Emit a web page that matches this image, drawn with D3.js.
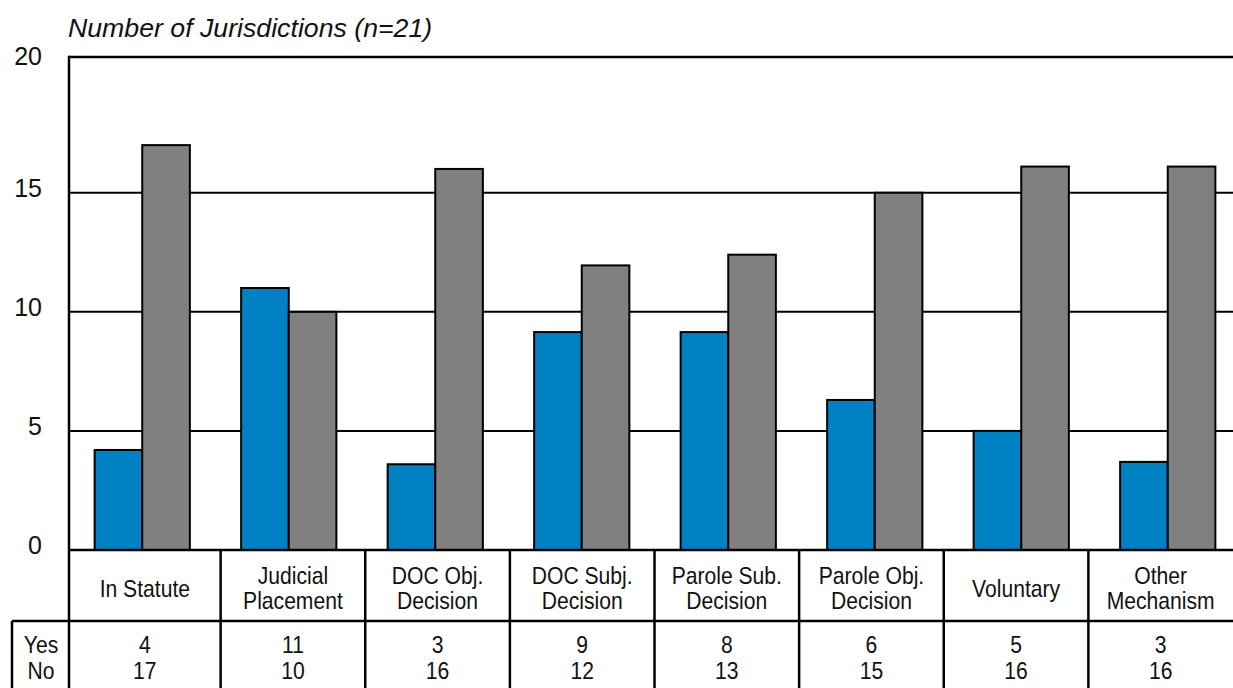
<!DOCTYPE html>
<html>
<head>
<meta charset="utf-8">
<script src="https://cdn.jsdelivr.net/npm/d3@7"></script>
<style>
  html, body { margin: 0; padding: 0; background: #fff; }
  svg { display: block; }
</style>
</head>
<body>
<script>
// Categories (label lines) and the values
const categories = [
  ["In Statute"],
  ["Judicial", "Placement"],
  ["DOC Obj.", "Decision"],
  ["DOC Subj.", "Decision"],
  ["Parole Sub.", "Decision"],
  ["Parole Obj.", "Decision"],
  ["Voluntary"],
  ["Other", "Mechanism"]
];
// bar heights as drawn in the chart
const yesBars = [4.2, 11.0, 3.6, 9.15, 9.15, 6.3, 5.0, 3.7];
const noBars = [17.0, 10.0, 16.0, 11.95, 12.4, 15.0, 16.1, 16.1];
// counts printed in the table below
const yesCounts = ["4", "11", "3", "9", "8", "6", "5", "3"];
const noCounts = ["17", "10", "16", "12", "13", "15", "16", "16"];
const tickValues = [0, 5, 10, 15, 20.7];
const tickLabels = ["0", "5", "10", "15", "20"];
const gridValues = [5, 10, 15];

const width = 1233;
const height = 688;
const plotLeft = 69, plotTop = 57, plotBottom = 550, plotRight = 1233;
const tableMid = 621;

const blue = "#0081c4";
const gray = "#808080";
const sansFont = "'Liberation Sans', Arial, sans-serif";
// condensed look: regular sans squeezed horizontally
const squeeze = 0.88;
const labelSize = 24;
const lineGap = 24.5;

const keys = categories.map((d, i) => i);

const y = d3.scaleLinear().domain([0, 20.7]).range([plotBottom, plotTop]);

// bar groups
const x = d3.scaleBand().domain(keys).range([69, 1241])
    .paddingInner(0.35).paddingOuter(0.175);
const half = x.bandwidth() / 2;

// table columns
const tx = d3.scaleBand().domain(keys).range([76, plotRight]);

const svg = d3.select("body").append("svg")
    .attr("width", width)
    .attr("height", height)
    .attr("viewBox", [0, 0, width, height]);

// title
svg.append("text")
    .attr("x", 68)
    .attr("y", 37)
    .attr("font-family", sansFont)
    .attr("font-style", "italic")
    .attr("font-size", 26.7)
    .attr("fill", "#111")
    .text("Number of Jurisdictions (n=21)");

// gridlines
svg.append("g")
    .attr("stroke", "#000")
    .attr("stroke-width", 2)
  .selectAll()
  .data(gridValues)
  .join("line")
    .attr("x1", plotLeft)
    .attr("x2", plotRight)
    .attr("y1", d => y(d))
    .attr("y2", d => y(d));

// y tick labels
svg.append("g")
    .attr("font-family", sansFont)
    .attr("font-size", 25)
    .attr("text-anchor", "end")
    .attr("fill", "#111")
  .selectAll()
  .data(tickValues)
  .join("text")
    .attr("x", 42)
    .attr("y", (d, i) => y(d) + (i === tickValues.length - 1 ? 8 : 4))
    .text((d, i) => tickLabels[i]);

// bars
const bars = svg.append("g")
    .attr("stroke", "#000")
    .attr("stroke-width", 2);

bars.selectAll(".yes")
  .data(keys)
  .join("rect")
    .attr("class", "yes")
    .attr("x", d => x(d))
    .attr("y", d => y(yesBars[d]))
    .attr("width", half)
    .attr("height", d => y(0) - y(yesBars[d]))
    .attr("fill", blue);

bars.selectAll(".no")
  .data(keys)
  .join("rect")
    .attr("class", "no")
    .attr("x", d => x(d) + half)
    .attr("y", d => y(noBars[d]))
    .attr("width", half)
    .attr("height", d => y(0) - y(noBars[d]))
    .attr("fill", gray);

// frame: top, left axis, baseline, table lines
const frame = svg.append("g")
    .attr("stroke", "#000")
    .attr("stroke-width", 2.5)
    .attr("fill", "none");
frame.append("line").attr("x1", plotLeft).attr("x2", plotRight + 5).attr("y1", plotTop).attr("y2", plotTop);
frame.append("line").attr("x1", plotLeft).attr("x2", plotLeft).attr("y1", plotTop - 1.25).attr("y2", height + 5);
frame.append("line").attr("x1", plotLeft).attr("x2", plotRight + 5).attr("y1", plotBottom).attr("y2", plotBottom);
frame.append("line").attr("x1", 12).attr("x2", plotRight + 5).attr("y1", tableMid).attr("y2", tableMid);
frame.append("line").attr("x1", 12).attr("x2", 12).attr("y1", tableMid).attr("y2", height + 5);

// table column separators
frame.selectAll(".sep")
  .data(keys.slice(1))
  .join("line")
    .attr("class", "sep")
    .attr("x1", d => tx(d))
    .attr("x2", d => tx(d))
    .attr("y1", plotBottom)
    .attr("y2", height + 5);

const cellCenter = d => ((d === 0 ? plotLeft : tx(d)) + tx(d) + tx.step()) / 2;

// squeezed text placed at (cx, cy)
function narrowText(g, cx, cy, str) {
  return g.append("text")
      .attr("transform", `translate(${cx},${cy}) scale(${squeeze},1)`)
      .text(str);
}

// category labels
const catG = svg.append("g")
    .attr("font-family", sansFont)
    .attr("font-size", labelSize)
    .attr("text-anchor", "middle")
    .attr("fill", "#111");

keys.forEach(d => {
  const lines = categories[d];
  const y0 = lines.length === 1 ? 597 : 584;
  lines.forEach((t, i) => narrowText(catG, cellCenter(d), y0 + i * lineGap, t));
});

// table rows
const tabG = svg.append("g")
    .attr("font-family", sansFont)
    .attr("font-size", labelSize)
    .attr("text-anchor", "middle")
    .attr("fill", "#111");

narrowText(tabG, 41, 653, "Yes");
narrowText(tabG, 41, 679, "No");

keys.forEach(d => {
  narrowText(tabG, cellCenter(d), 653, yesCounts[d]);
  narrowText(tabG, cellCenter(d), 679, noCounts[d]);
});
</script>
</body>
</html>
